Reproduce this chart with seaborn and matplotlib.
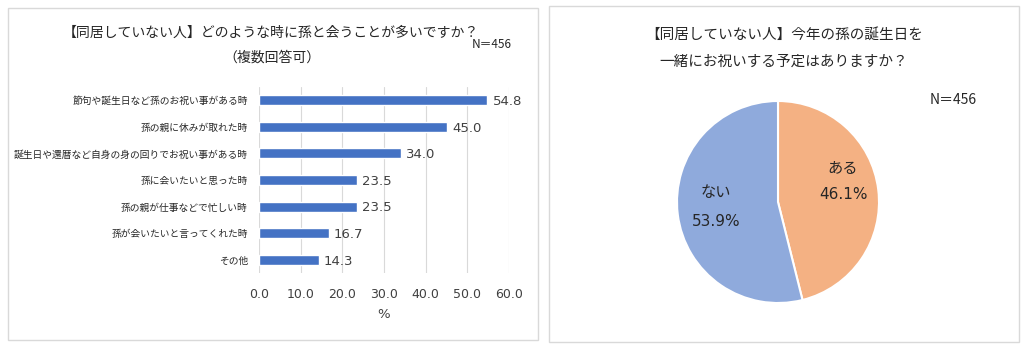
import matplotlib
matplotlib.use("Agg")
import matplotlib.pyplot as plt
import seaborn as sns
import pandas as pd
from matplotlib.patches import Rectangle

sns.set_theme(style="white")
plt.rcParams['font.family'] = ['Noto Sans CJK JP', 'DejaVu Sans']
NUMFONT = ['DejaVu Sans']

categories = [
    "節句や誕生日など孫のお祝い事がある時",
    "孫の親に休みが取れた時",
    "誕生日や還暦など自身の身の回りでお祝い事がある時",
    "孫に会いたいと思った時",
    "孫の親が仕事などで忙しい時",
    "孫が会いたいと言ってくれた時",
    "その他",
]
values = [54.8, 45.0, 34.0, 23.5, 23.5, 16.7, 14.3]
x_ticks = [0, 10, 20, 30, 40, 50, 60]

pie_labels = ["ある", "ない"]
pie_values = [46.1, 53.9]
pie_colors = ["#F4B183", "#8FAADC"]

title_left_1 = "【同居していない人】どのような時に孫と会うことが多いですか？"
title_left_2 = "（複数回答可）"
title_right_1 = "【同居していない人】今年の孫の誕生日を"
title_right_2 = "一緒にお祝いする予定はありますか？"
n_text = "N＝456"

W, H = 1024, 348
fig = plt.figure(figsize=(W / 100, H / 100), dpi=100)

def fx(px):
    return px / W

def fy(py):
    return 1 - py / H

# panel borders
fig.patches.append(Rectangle((fx(8), fy(340)), fx(530), (340 - 8) / H, transform=fig.transFigure,
                             fill=False, edgecolor="#D9D9D9", linewidth=1))
fig.patches.append(Rectangle((fx(549), fy(342)), fx(470), (342 - 6) / H, transform=fig.transFigure,
                             fill=False, edgecolor="#D9D9D9", linewidth=1))

# bar chart
ax = fig.add_axes([fx(259), fy(273), fx(250), (273 - 87) / H])
df = pd.DataFrame({"cat": categories, "val": values})
sns.barplot(data=df, x="val", y="cat", orient="h", color="#4472C4", width=0.38, ax=ax,
            saturation=1)
ax.set_xlim(0, 60)
ax.set_ylim(6.5, -0.5)
ax.set_xticks(x_ticks)
ax.set_xticklabels([f"{t:.1f}" for t in x_ticks], fontsize=9, color="#404040", family=NUMFONT)
ax.tick_params(axis="x", length=0, pad=11)
ax.tick_params(axis="y", length=0, pad=8, labelsize=7, labelcolor="#262626")
ax.grid(axis="x", color="#D9D9D9", linewidth=0.8)
ax.set_axisbelow(True)
for s in ax.spines.values():
    s.set_visible(False)
ax.set_ylabel("")
ax.set_xlabel("%", fontsize=9.5, color="#404040", labelpad=5, family=NUMFONT)
for i, v in enumerate(values):
    ax.text(v + 1.3, i + 0.05, f"{v:.1f}", va="center", ha="left", fontsize=9.5, color="#404040",
            family=NUMFONT)

fig.text(fx(271), fy(33), title_left_1, ha="center", va="center", fontsize=10, color="#262626")
fig.text(fx(272), fy(58), title_left_2, ha="center", va="center", fontsize=10, color="#262626")
fig.text(fx(492), fy(44), n_text, ha="center", va="center", fontsize=8.5, color="#262626")

# pie chart
pax = fig.add_axes([fx(778 - 101), fy(202 + 101), fx(202), 202 / H])
pax.pie(pie_values, colors=pie_colors, startangle=90, counterclock=False,
        wedgeprops=dict(edgecolor="white", linewidth=1.5))
pax.set_aspect("equal")
pax.set_xlim(-1, 1)
pax.set_ylim(-1, 1)

fig.text(fx(784), fy(35), title_right_1, ha="center", va="center", fontsize=10.5, color="#262626")
fig.text(fx(784), fy(62), title_right_2, ha="center", va="center", fontsize=10.5, color="#262626")
fig.text(fx(953), fy(100), n_text, ha="center", va="center", fontsize=10, color="#262626")

fig.text(fx(843), fy(169), pie_labels[0], ha="center", va="center", fontsize=11, color="#262626")
fig.text(fx(843), fy(195), f"{pie_values[0]:.1f}%", ha="center", va="center", fontsize=11,
         color="#262626", family=NUMFONT)
fig.text(fx(716), fy(193), pie_labels[1], ha="center", va="center", fontsize=11, color="#262626")
fig.text(fx(716), fy(221), f"{pie_values[1]:.1f}%", ha="center", va="center", fontsize=11,
         color="#262626", family=NUMFONT)

fig.savefig("out.png", dpi=100)
